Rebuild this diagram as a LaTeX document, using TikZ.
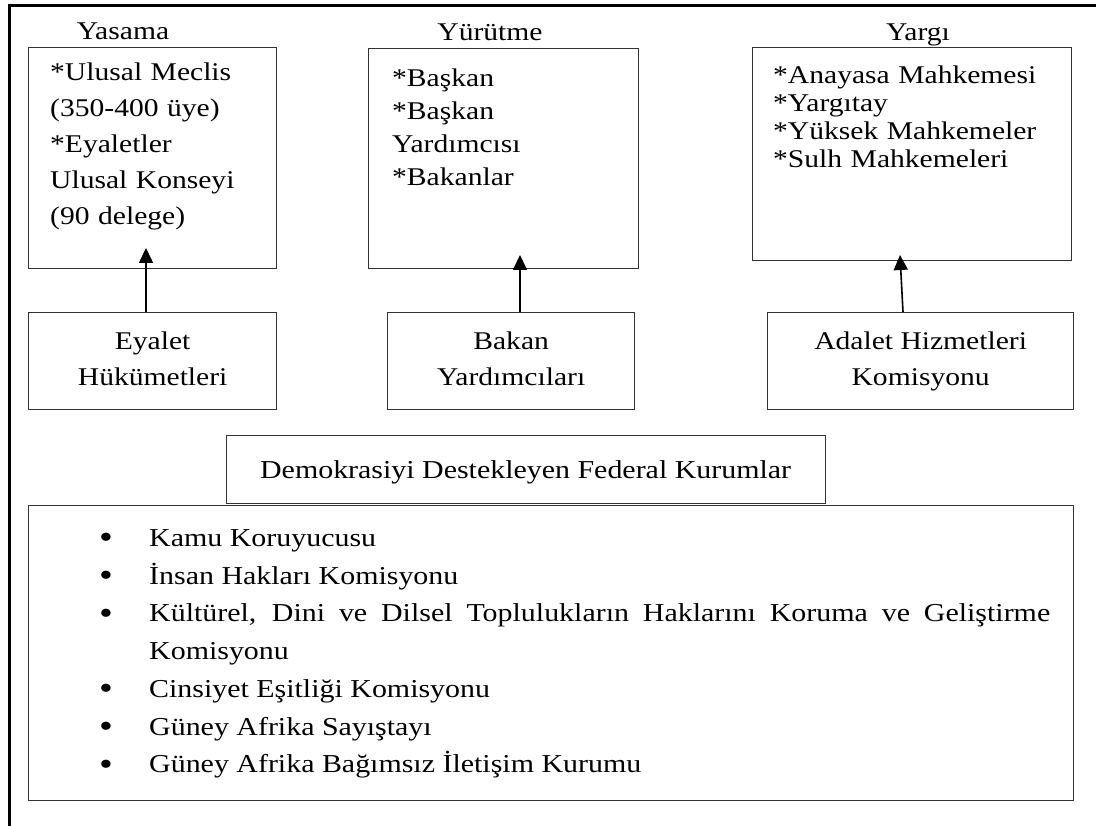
\documentclass[tikz,border=0pt]{standalone}
\usepackage{fontspec}
\setmainfont{Liberation Serif}[FakeStretch=1.16]
\usetikzlibrary{arrows.meta}
\newcommand\fTitle{\fontsize{25.5}{33}\selectfont}
\newcommand\fYas{\fontsize{25.5}{36.2}\selectfont}
\newcommand\fYur{\fontsize{25.5}{33}\selectfont}
\newcommand\fYar{\fontsize{25.5}{28}\selectfont\lineskiplimit=-30pt\lineskip=0pt}
\newcommand\fLow{\fontsize{25.5}{35.5}\selectfont}
\newcommand\fBot{\fontsize{25.8}{37.8}\selectfont\hyphenpenalty=10000\tolerance=10000\lineskiplimit=-30pt\lineskip=0pt}
\newcommand\strutA{\rule{0pt}{22pt}}
\newcommand\strutD{\rule[-9pt]{0pt}{9pt}}
\newcommand\bigdot{\raisebox{-2.5pt}{\fontsize{34}{34}\selectfont\textbullet}}
\newcommand\itm[1]{\hangindent=50pt\hangafter=1\noindent\makebox[50pt][l]{\bigdot}\strutA#1\par}
\begin{document}
\begin{tikzpicture}[x=1pt,y=-1pt,
  box/.style={draw=black!80, line width=1.3pt, inner sep=0pt, anchor=north west},
  lowbox/.style={box, align=center, font=\fLow},
  arr/.style={line width=1.6pt, draw=black, -{Triangle[width=14pt,length=15pt]}},
  frame/.style={line width=3pt, draw=black},
  ttl/.style={anchor=base, inner sep=0pt, font=\fTitle},
  txt/.style={anchor=north west, inner sep=0pt, align=left, text width=300pt}
]
\useasboundingbox (0,0) rectangle (1096,826);
% outer frame (top and left only)
\draw[frame] (9.3,826) -- (9.3,5.3) -- (1096,5.3);

% titles
\node[ttl] (tYas) at (123,40) {Yasama};
\node[ttl] (tYur) at (490,41) {Yürütme};
\node[ttl] (tYar) at (918,41) {Yargı};

% upper boxes
\node[box, minimum width=248pt, minimum height=221pt] (yasama) at (28,47) {};
\node[box, minimum width=270pt, minimum height=220pt] (yurutme) at (368,48) {};
\node[box, minimum width=319pt, minimum height=213pt] (yargi) at (752,47) {};

\node[txt, font=\fYas] (xYas) at (50,58) {\strutA*Ulusal Meclis\\(350-400 üye)\\{}*Eyaletler\\Ulusal Konseyi\\(90 delege)};
\node[txt, font=\fYur] (xYur) at (392,64) {\strutA*Başkan\\{}*Başkan\\Yardımcısı\\{}*Bakanlar};
\node[txt, font=\fYar] (xYar) at (773,61) {\strutA*Anayasa Mahkemesi\\{}*Yargıtay\\{}*Yüksek Mahkemeler\\{}*Sulh Mahkemeleri};

% lower boxes
\node[lowbox, minimum width=248pt, minimum height=97pt] (eyalet) at (28,312) {\strutA Eyalet\\Hükümetleri\strutD};
\node[lowbox, minimum width=247pt, minimum height=97pt] (bakan) at (387,312) {\strutA Bakan\\Yardımcıları\strutD};
\node[lowbox, minimum width=306pt, minimum height=97pt] (adalet) at (767,312) {\strutA Adalet Hizmetleri\\Komisyonu\strutD};

% arrows
\coordinate (t1) at (146,248);
\coordinate (t2) at (520,255);
\coordinate (t3) at (900,255);
\coordinate (b3x) at (903,0);
\draw[arr] (eyalet.north -| t1) -- (t1);
\draw[arr] (bakan.north -| t2) -- (t2);
\draw[arr] (adalet.north -| b3x) -- (t3);

% federal institutions
\node[box, font=\fBot, minimum width=599pt, minimum height=68pt] (demok) at (225.5,435) {\rule{0pt}{24pt}Demokrasiyi Destekleyen Federal Kurumlar};
\node[box, minimum width=1045pt, minimum height=295pt] (liste) at (28,505) {};
\node[anchor=north west, inner sep=0pt, text width=951pt, align=justify, font=\fBot] (items) at (99,524) {%
\itm{Kamu Koruyucusu}%
\itm{İnsan Hakları Komisyonu}%
\itm{Kültürel, Dini ve Dilsel Toplulukların Haklarını Koruma ve Geliştirme Komisyonu}%
\itm{Cinsiyet Eşitliği Komisyonu}%
\itm{Güney Afrika Sayıştayı}%
\itm{Güney Afrika Bağımsız İletişim Kurumu}};
\end{tikzpicture}
\end{document}
